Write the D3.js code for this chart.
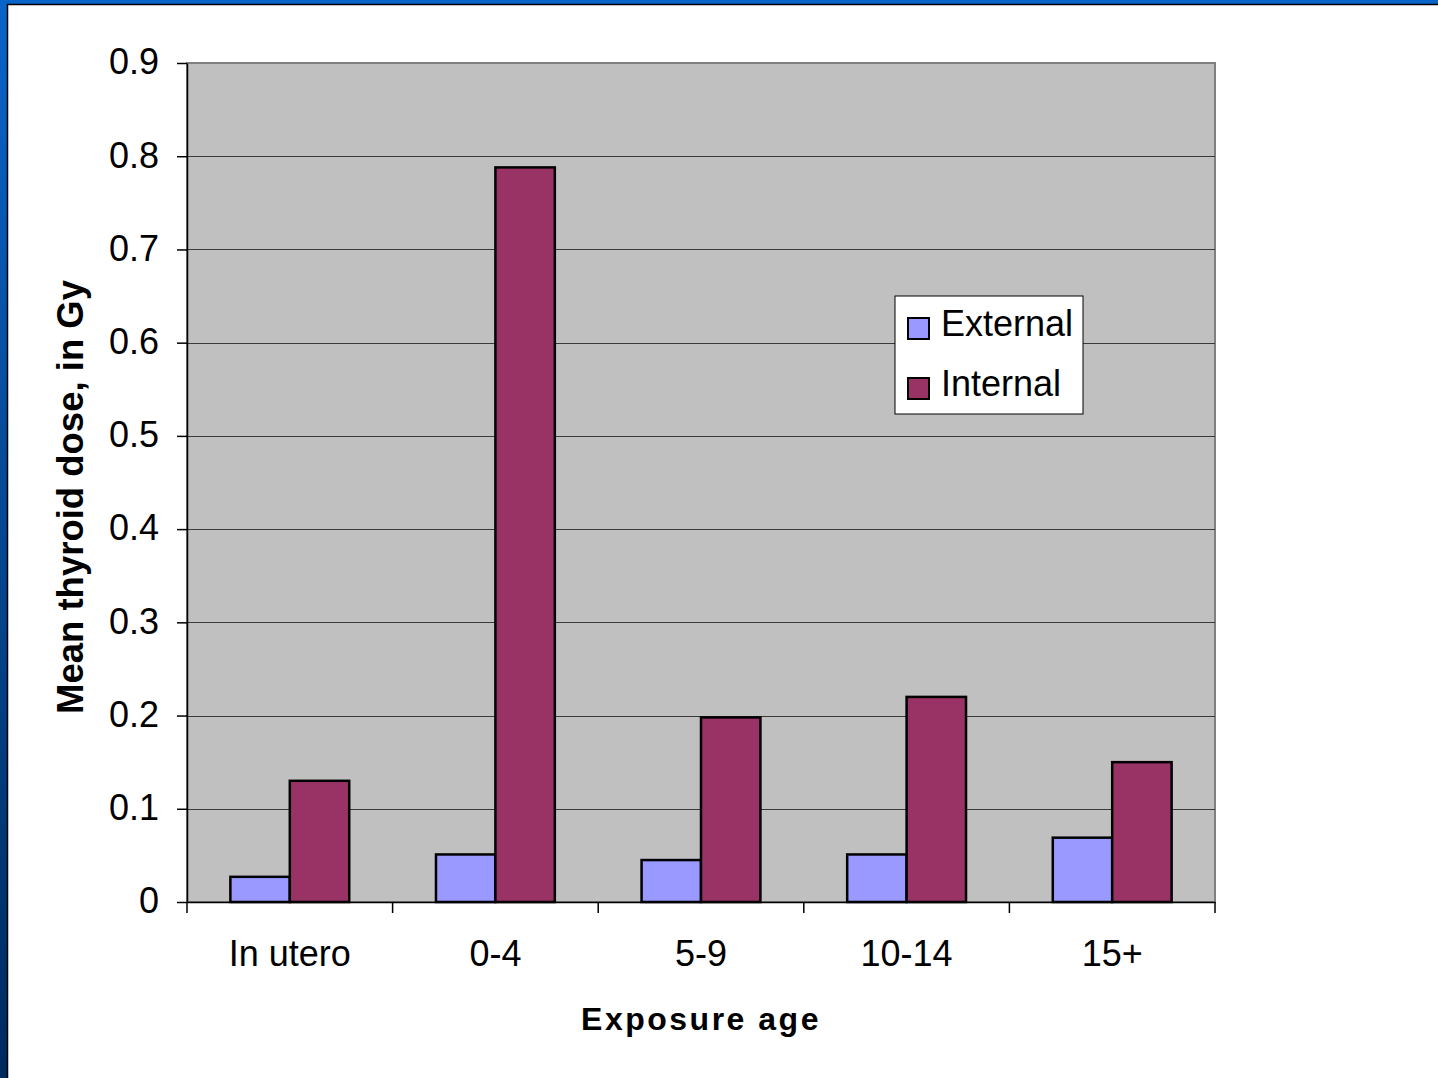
<!DOCTYPE html>
<html>
<head>
<meta charset="utf-8">
<script src="https://cdn.jsdelivr.net/npm/d3@7"></script>
<style>
  body { margin: 0; background: #fff; }
  text { font-family: "Liberation Sans", Arial, sans-serif; fill: #000; }
</style>
</head>
<body>
<svg id="chart"></svg>
<script>
const categories = ["In utero", "0-4", "5-9", "10-14", "15+"];
const series = ["External", "Internal"];
const externalDose = [0.027, 0.051, 0.045, 0.051, 0.069];
const internalDose = [0.13, 0.788, 0.198, 0.22, 0.15];
const yTicks = [0, 0.1, 0.2, 0.3, 0.4, 0.5, 0.6, 0.7, 0.8, 0.9];
const yTickLabels = ["0", "0.1", "0.2", "0.3", "0.4", "0.5", "0.6", "0.7", "0.8", "0.9"];
const colors = ["#9999ff", "#993366"];

const W = 1438, H = 1078;
const plot = { left: 187, right: 1215, top: 63, bottom: 902 };

const svg = d3.select("#chart").attr("width", W).attr("height", H);

// slide frame
const grad = svg.append("defs").append("linearGradient")
  .attr("id", "side").attr("x1", 0).attr("y1", 0).attr("x2", 0).attr("y2", 1);
grad.append("stop").attr("offset", "0%").attr("stop-color", "#0a64c8");
grad.append("stop").attr("offset", "100%").attr("stop-color", "#002a5e");
svg.append("rect").attr("x", 0).attr("y", 0).attr("width", W).attr("height", 4).attr("fill", "#0a64c8");
svg.append("rect").attr("x", 0).attr("y", 0).attr("width", 7).attr("height", H).attr("fill", "url(#side)");
svg.append("line").attr("x1", 7).attr("x2", W).attr("y1", 4.5).attr("y2", 4.5).attr("stroke", "#000").attr("stroke-width", 1.5);
svg.append("line").attr("x1", 7.5).attr("x2", 7.5).attr("y1", 4).attr("y2", H).attr("stroke", "#000").attr("stroke-width", 1.5);

const x0 = d3.scaleBand().domain(categories).range([plot.left, plot.right]).padding(0);
const x1 = d3.scaleBand().domain(series).range([0, x0.bandwidth()]).paddingInner(0).paddingOuter(0.73);
const y = d3.scaleLinear().domain([0, 0.9]).range([plot.bottom, plot.top]);

// plot background
svg.append("rect")
  .attr("x", plot.left).attr("y", plot.top)
  .attr("width", plot.right - plot.left).attr("height", plot.bottom - plot.top)
  .attr("fill", "#c0c0c0").attr("stroke", "#808080").attr("stroke-width", 2);

// gridlines
svg.append("g").selectAll("line")
  .data(yTicks.slice(1, -1))
  .enter().append("line")
  .attr("x1", plot.left).attr("x2", plot.right)
  .attr("y1", (d) => Math.round(y(d)) + 0.5).attr("y2", (d) => Math.round(y(d)) + 0.5)
  .attr("stroke", "#3a3a3a").attr("stroke-width", 1);

// bars
const rows = categories.map((c, i) => ({ cat: c, vals: [externalDose[i], internalDose[i]] }));
const groups = svg.append("g").selectAll("g")
  .data(rows).enter().append("g")
  .attr("transform", (d) => `translate(${x0(d.cat)},0)`);
groups.selectAll("rect")
  .data((d) => d.vals.map((v, j) => ({ s: series[j], v: v, j: j })))
  .enter().append("rect")
  .attr("x", (d) => x1(d.s))
  .attr("y", (d) => y(d.v))
  .attr("width", x1.bandwidth())
  .attr("height", (d) => plot.bottom - y(d.v))
  .attr("fill", (d) => colors[d.j])
  .attr("stroke", "#000").attr("stroke-width", 2.5);

// y axis
const yAxis = svg.append("g")
  .attr("transform", `translate(${plot.left},0)`)
  .call(d3.axisLeft(y).tickValues(yTicks).tickFormat((d, i) => yTickLabels[i]).tickSize(10).tickPadding(18).tickSizeOuter(0));
yAxis.select(".domain").attr("stroke", "#000").attr("stroke-width", 1.5);
yAxis.selectAll(".tick line").attr("stroke", "#000").attr("stroke-width", 1.5);
yAxis.selectAll("text").style("font-size", "36px").attr("font-family", null).attr("dy", "0.3em");

// x axis
const xAxis = svg.append("g")
  .attr("transform", `translate(0,${plot.bottom})`)
  .call(d3.axisBottom(x0).tickSize(0).tickPadding(38));
xAxis.select(".domain").attr("stroke", "#000").attr("stroke-width", 1.5);
xAxis.selectAll("text").style("font-size", "36px").attr("font-family", null);
svg.append("g").selectAll("line")
  .data(categories.concat([null]))
  .enter().append("line")
  .attr("x1", (d, i) => plot.left + i * x0.bandwidth())
  .attr("x2", (d, i) => plot.left + i * x0.bandwidth())
  .attr("y1", plot.bottom).attr("y2", plot.bottom + 11)
  .attr("stroke", "#000").attr("stroke-width", 1.5);

// axis titles
svg.append("text")
  .attr("x", (plot.left + plot.right) / 2).attr("y", 1030)
  .attr("text-anchor", "middle")
  .style("font-size", "32px").style("font-weight", "bold").style("letter-spacing", "2.5px")
  .text("Exposure age");
svg.append("text")
  .attr("transform", "translate(83,497) rotate(-90)")
  .attr("text-anchor", "middle")
  .style("font-size", "36.5px").style("font-weight", "bold")
  .text("Mean thyroid dose, in Gy");

// legend
const legend = svg.append("g").attr("transform", "translate(895,296)");
legend.append("rect").attr("width", 188).attr("height", 118)
  .attr("fill", "#fff").attr("stroke", "#000").attr("stroke-width", 1);
const items = legend.selectAll(".item").data(series).enter().append("g")
  .attr("transform", (d, i) => `translate(0,${i * 60})`);
items.append("rect").attr("x", 13).attr("y", 22).attr("width", 21).attr("height", 21)
  .attr("fill", (d, i) => colors[i]).attr("stroke", "#000").attr("stroke-width", 2);
items.append("text").attr("x", 46).attr("y", 40)
  .style("font-size", "36px").text((d) => d);
</script>
</body>
</html>
